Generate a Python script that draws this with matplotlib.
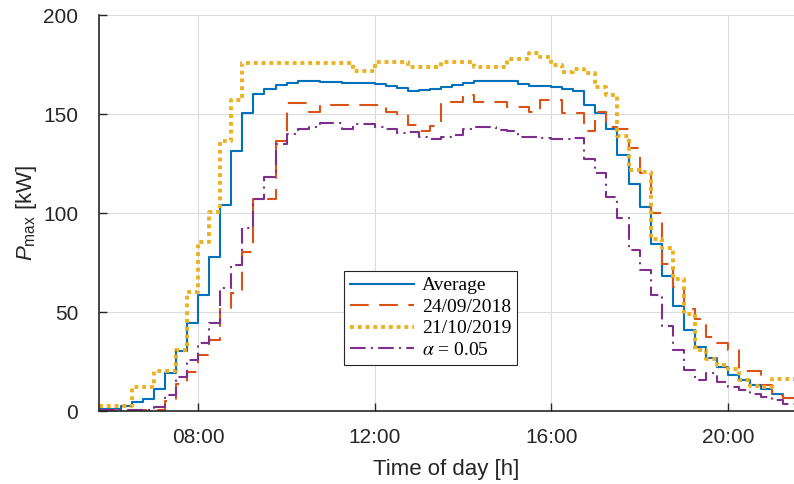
import matplotlib.pyplot as plt
import numpy as np

plt.rcParams['font.family'] = ['Liberation Sans', 'DejaVu Sans']
plt.rcParams['mathtext.fontset'] = 'custom'
plt.rcParams['mathtext.rm'] = 'Liberation Sans'
plt.rcParams['mathtext.it'] = 'Liberation Sans:italic'

# 15-minute steps starting at 05:45 (hours)
t_start = 5.75
t_step = 0.25

average = [1, 1, 2.5, 4.5, 6.3, 11, 19, 30.3, 44.6, 58.6,
           78, 104, 131.4, 150.7, 160, 162.6, 164.6, 165.8, 166.7, 166.5,
           166.3, 166.3, 165.8, 165.8, 165.5, 165.2, 164.3, 163.2, 161.7, 161.9,
           162.7, 163.5, 164.6, 165.8, 166.5, 166.5, 166.5, 166.5, 165.2, 164.1,
           164.1, 163.8, 162.8, 161.6, 154.5, 150.7, 142.3, 129.3, 114.6, 102.8,
           84.3, 68.3, 53, 40.9, 32.5, 26.6, 22, 18.2, 15.7, 13.1,
           10.9, 8.6, 6.4]
day_2018 = [0.3, 0.3, 0.3, 0.3, 0.3, 0.3, 5.2, 13.6, 19.9, 28.3,
            36, 52, 59.4, 80.5, 107, 107, 136.5, 155.7, 155.7, 151.2,
            154.5, 154.5, 154.5, 154.5, 154.5, 154.5, 151.2, 149.8, 144.4, 141.3,
            144, 156.2, 156.2, 159.6, 156.2, 156.2, 156.2, 153.5, 153.5, 151.2,
            157.1, 157.1, 150.7, 150.7, 141.3, 151, 143.5, 142.5, 133, 120.4,
            100, 74, 62.8, 51.3, 46.3, 37.2, 34.5, 31, 20, 20,
            13.1, 8.1, 6.5]
day_2019 = [2.5, 2.5, 2.5, 12, 12, 20.4, 20.4, 30.8, 60.3, 85.5,
            100.7, 136.4, 157, 175.8, 175.8, 175.8, 175.8, 175.8, 175.8, 175.8,
            175.8, 175.8, 175.8, 171.7, 171.7, 176.4, 176.4, 176.4, 173.8, 173.8,
            173.8, 176.4, 176.4, 176.4, 173.6, 173.6, 173.6, 177.8, 177.8, 180.6,
            178.6, 174.7, 171, 172.6, 170.5, 163.8, 159.6, 139, 121.5, 120.9,
            87, 82.5, 66.5, 49, 30.8, 26.2, 23, 21, 15.7, 12.5,
            12.3, 16, 16]
alpha_05 = [0.5, 0.5, 0.5, 0.5, 0.5, 2, 8.1, 17, 25.8, 34.5,
            44.3, 62.3, 73.7, 92.3, 106.9, 118.3, 135, 140, 142.3, 143.6,
            145.3, 145.6, 142.3, 145, 145, 143.6, 142.3, 140.2, 141, 138.6,
            137.5, 138.5, 139.3, 142.2, 143.6, 143.3, 142, 141.6, 138.2, 138.5,
            138, 137.4, 137.5, 137.7, 127.1, 120.4, 107.9, 97.3, 81.2, 71.4,
            58.6, 42.9, 30.8, 20.6, 15.8, 19, 14.8, 12, 10.5, 8.5,
            7, 5.5, 3.5]

tick_hours = [8, 12, 16, 20]
tick_labels = ['08:00', '12:00', '16:00', '20:00']

edges = t_start + t_step * np.arange(len(average) + 1)


def stairs(ax, vals, **kw):
    y = np.append(vals, vals[-1])
    return ax.plot(edges, y, drawstyle='steps-post', **kw)


fig = plt.figure(figsize=(7.94, 4.84), dpi=100)
ax = fig.add_axes([0.1247, 0.1508, 0.8753, 0.8182])

stairs(ax, average, color='#0072BD', lw=1.5, label='Average')
stairs(ax, day_2018, color='#D95319', lw=1.5, linestyle=(0, (9, 5)), label='24/09/2018')
stairs(ax, day_2019, color='#EDB120', lw=2.8, linestyle=(0, (1, 1)),
       dash_capstyle='butt', label='21/10/2019')
stairs(ax, alpha_05, color='#7E2F8E', lw=1.5, linestyle=(0, (7.5, 2.5, 1, 2.5)),
       label=r'$\alpha$ = 0.05')

ax.set_xlim(t_start, edges[-1])
ax.set_ylim(0, 200)
ax.set_xticks(tick_hours)
ax.set_xticklabels(tick_labels)
ax.set_yticks([0, 50, 100, 150, 200])
ax.grid(True, color='#dcdcdc', lw=0.8)
ax.set_axisbelow(True)
for s in ['top', 'right']:
    ax.spines[s].set_visible(False)
for s in ['left', 'bottom']:
    ax.spines[s].set_color('#262626')
    ax.spines[s].set_linewidth(1.2)
ax.tick_params(direction='in', length=6, width=1, colors='#262626', labelsize=15)
ax.tick_params(axis='x', pad=12)
ax.tick_params(axis='y', pad=15)
ax.set_xlabel('Time of day [h]', fontsize=16, color='#262626', labelpad=9)
ax.set_ylabel(r'$P_{\rm max}$ [kW]', fontsize=16, color='#262626', labelpad=3)

leg = ax.legend(loc='upper left', bbox_to_anchor=(0.353, 0.3535), borderaxespad=0,
                prop={'family': 'Liberation Serif', 'size': 14},
                handlelength=3.3, labelspacing=0.2, handletextpad=0.4,
                borderpad=0.3, fancybox=False, framealpha=1)
leg.get_frame().set_edgecolor('#262626')
leg.get_frame().set_linewidth(0.8)
for txt in leg.get_texts():
    txt.set_math_fontfamily('stix')

fig.savefig('out.png', dpi=100)
